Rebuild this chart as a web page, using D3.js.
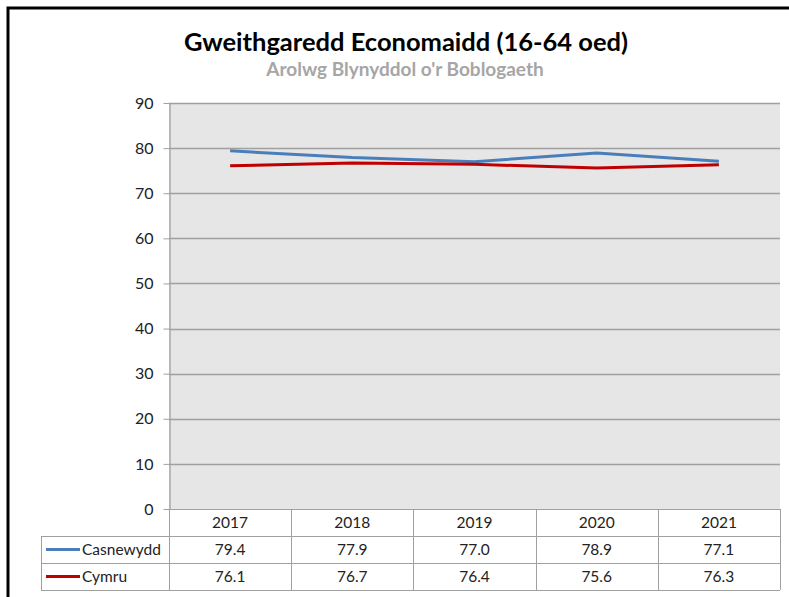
<!DOCTYPE html>
<html>
<head>
<meta charset="utf-8">
<script src="https://cdn.jsdelivr.net/npm/d3@7"></script>
<style>
  body { margin: 0; background: #fff; }
  text { font-family: Lato, "Open Sans", sans-serif; }
</style>
</head>
<body>
<svg id="chart" width="789" height="597"></svg>
<script>
const years = ["2017", "2018", "2019", "2020", "2021"];
const casnewydd = [79.4, 77.9, 77.0, 78.9, 77.1];
const cymru = [76.1, 76.7, 76.4, 75.6, 76.3];
const yTicks = [0, 10, 20, 30, 40, 50, 60, 70, 80, 90];

const series = [
  { name: "Casnewydd", values: casnewydd, color: "#4a7ebb" },
  { name: "Cymru", values: cymru, color: "#c00000" }
];

const svg = d3.select("#chart");
const plot = { left: 169, right: 780, top: 103, bottom: 509 };
const rowH = 27;
const tableLeft = 41;

// outer chart frame
svg.append("rect")
  .attr("x", 8).attr("y", 8)
  .attr("width", 800).attr("height", 620)
  .attr("fill", "#fff")
  .attr("stroke", "#000")
  .attr("stroke-width", 3);

svg.append("text")
  .attr("x", 406).attr("y", 51)
  .attr("text-anchor", "middle")
  .attr("font-size", 25.5)
  .attr("font-weight", "bold")
  .attr("fill", "#000")
  .text("Gweithgaredd Economaidd (16-64 oed)");

svg.append("text")
  .attr("x", 405).attr("y", 76)
  .attr("text-anchor", "middle")
  .attr("font-size", 19)
  .attr("font-weight", "bold")
  .attr("fill", "#a6a6a6")
  .text("Arolwg Blynyddol o'r Boblogaeth");

const x = d3.scaleBand().domain(years).range([plot.left, plot.right]);
const y = d3.scaleLinear().domain([0, 90]).range([plot.bottom, plot.top]);

svg.append("rect")
  .attr("x", plot.left).attr("y", plot.top)
  .attr("width", plot.right - plot.left)
  .attr("height", plot.bottom - plot.top)
  .attr("fill", "#e6e6e6");

// gridlines
svg.append("g")
  .selectAll("line")
  .data(yTicks.filter(d => d > 0))
  .join("line")
  .attr("x1", plot.left).attr("x2", plot.right)
  .attr("y1", d => Math.round(y(d)) + 0.5)
  .attr("y2", d => Math.round(y(d)) + 0.5)
  .attr("stroke", "#a0a0a0")
  .attr("stroke-width", 1.3);

// y axis
const yAxis = d3.axisLeft(y)
  .tickValues(yTicks)
  .tickSize(6)
  .tickPadding(10)
  .tickSizeOuter(0);

const gy = svg.append("g")
  .attr("transform", `translate(${plot.left + 0.5},0)`)
  .call(yAxis);
gy.select(".domain").attr("stroke", "#a0a0a0").attr("stroke-width", 1.3);
gy.selectAll(".tick line").attr("stroke", "#a0a0a0");
gy.selectAll(".tick text")
  .attr("font-family", "Lato, sans-serif")
  .attr("font-size", 16)
  .attr("fill", "#222");

// lines
const line = d3.line()
  .x((d, i) => x(years[i]) + x.bandwidth() / 2)
  .y(d => y(d));

svg.append("g")
  .selectAll("path")
  .data(series)
  .join("path")
  .attr("d", d => line(d.values))
  .attr("fill", "none")
  .attr("stroke", d => d.color)
  .attr("stroke-width", 3)
  .attr("stroke-linejoin", "round");

// data table
const table = svg.append("g");
const gridColor = "#a0a0a0";

// header row
table.selectAll(".hdr")
  .data(years)
  .join("text")
  .attr("x", d => x(d) + x.bandwidth() / 2)
  .attr("y", plot.bottom + rowH / 2 + 5)
  .attr("text-anchor", "middle")
  .attr("font-size", 15.5)
  .attr("fill", "#222")
  .text(d => d);

const tableBottom = plot.bottom + rowH * (series.length + 1);

// vertical lines
table.selectAll(".vline")
  .data(years.map(d => x(d)).concat([plot.right]))
  .join("line")
  .attr("x1", d => Math.round(d) + 0.5).attr("x2", d => Math.round(d) + 0.5)
  .attr("y1", plot.bottom).attr("y2", tableBottom)
  .attr("stroke", gridColor);

table.append("line")
  .attr("x1", tableLeft + 0.5).attr("x2", tableLeft + 0.5)
  .attr("y1", plot.bottom + rowH).attr("y2", tableBottom)
  .attr("stroke", gridColor);

// horizontal lines
table.append("line")
  .attr("x1", plot.left).attr("x2", plot.right)
  .attr("y1", plot.bottom + 0.5).attr("y2", plot.bottom + 0.5)
  .attr("stroke", gridColor);

table.selectAll(".hline")
  .data(d3.range(1, series.length + 2))
  .join("line")
  .attr("x1", tableLeft).attr("x2", plot.right)
  .attr("y1", i => plot.bottom + rowH * i + 0.5)
  .attr("y2", i => plot.bottom + rowH * i + 0.5)
  .attr("stroke", gridColor);

series.forEach((s, si) => {
  const rowTop = plot.bottom + rowH * (si + 1);
  const cy = rowTop + rowH / 2;
  table.append("line")
    .attr("x1", tableLeft + 5).attr("x2", tableLeft + 39)
    .attr("y1", cy).attr("y2", cy)
    .attr("stroke", s.color)
    .attr("stroke-width", 3);
  table.append("text")
    .attr("x", tableLeft + 41)
    .attr("y", cy + 5)
    .attr("font-size", 15.5)
    .attr("fill", "#222")
    .text(s.name);
  table.selectAll(null)
    .data(s.values)
    .join("text")
    .attr("x", (d, i) => x(years[i]) + x.bandwidth() / 2)
    .attr("y", cy + 5)
    .attr("text-anchor", "middle")
    .attr("font-size", 15.5)
    .attr("fill", "#222")
    .text(d => d.toFixed(1));
});
</script>
</body>
</html>
